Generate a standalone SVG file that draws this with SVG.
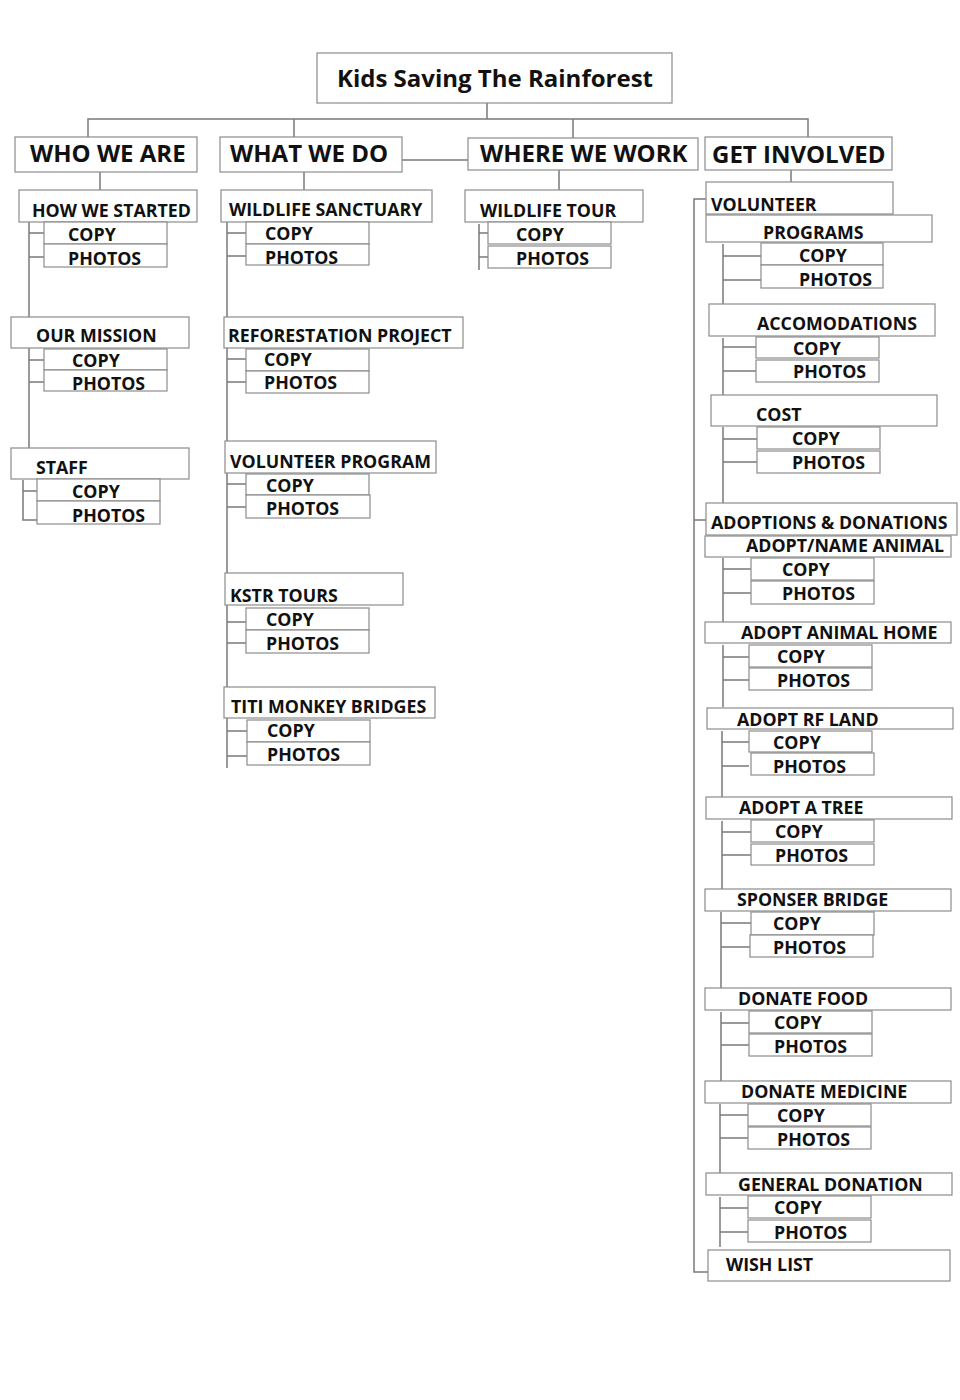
<svg xmlns="http://www.w3.org/2000/svg" width="960" height="1400" viewBox="0 0 960 1400">
<style>
.b{fill:#fff;stroke:#8c8c8c;stroke-width:1.2}
.l{stroke:#7a7a7a;stroke-width:1.5;fill:none}
text{font-family:"Open Sans","DejaVu Sans",sans-serif;font-weight:700;fill:#111}
.t{font-size:24px}
.h{font-size:24px}
.s{font-size:17.8px}
</style>
<rect width="960" height="1400" fill="#fff"/>
<g id="connectors" class="l">
<path d="M487 103V119M88 137V119H808V137M294 119V137M573 119V138M402 160H468"/>
<path d="M100 172V190M304 172V190M559 170V190M791 170V182"/>
<path d="M29 222V318M29 233H44M29 257H44M29 348V448M29 360H44M29 382H44M23 480V520H37M23 491H37"/>
<path d="M227 222V768M227 233H246M227 256H246M227 359H246M227 382H246M227 484H246M227 507H246M227 622H246M227 643H246M227 731H247M227 756H247"/>
<path d="M479 224V270M479 233H488M479 257H488"/>
<path d="M706 199H694V1272H708M694 520H706"/>
<path d="M723 244V304M723 256H761M723 280H761M723 338V396M723 347H756M723 371H756M723 427V503M723 439H757M723 462H757"/>
<path d="M723 558V622M723 569H751M723 593H751M723 645V707M723 657H749M723 680H749M722 731V798M722 742H749M722 766H749M722 821V890M722 832H751M722 855H751M721 912V988M721 923H751M721 947H750M721 1012V1081M721 1023H749M721 1045H749M720 1104V1173M720 1115H748M720 1138H748M720 1197V1247M720 1208H748M720 1232H748"/>
</g>
<g id="root"><rect class="b" x="317" y="53" width="355" height="50"/><text class="t" x="337" y="87">Kids Saving The Rainforest</text></g>
<g id="who-we-are"><rect class="b" x="15" y="137" width="182" height="35"/><text class="h" x="30" y="162">WHO WE ARE</text></g>
<g id="what-we-do"><rect class="b" x="220" y="137" width="182" height="35"/><text class="h" x="230" y="162">WHAT WE DO</text></g>
<g id="where-we-work"><rect class="b" x="468" y="138" width="230" height="32"/><text class="h" x="480" y="162">WHERE WE WORK</text></g>
<g id="get-involved"><rect class="b" x="705" y="137" width="187" height="33"/><text class="h" x="712" y="163">GET INVOLVED</text></g>

<g id="how-we-started"><rect class="b" x="19" y="190" width="178" height="32"/><text class="s" x="32" y="217">HOW WE STARTED</text></g>
<g id="hws-copy"><rect class="b" x="44" y="222" width="123" height="22"/><text class="s" x="68" y="241">COPY</text></g>
<g id="hws-photos"><rect class="b" x="44" y="244" width="123" height="23"/><text class="s" x="68" y="265">PHOTOS</text></g>
<g id="our-mission"><rect class="b" x="11" y="317" width="178" height="31"/><text class="s" x="36" y="342">OUR MISSION</text></g>
<g id="om-copy"><rect class="b" x="44" y="349" width="123" height="21"/><text class="s" x="72" y="367">COPY</text></g>
<g id="om-photos"><rect class="b" x="44" y="370" width="123" height="21"/><text class="s" x="72" y="390">PHOTOS</text></g>
<g id="staff"><rect class="b" x="11" y="448" width="178" height="31"/><text class="s" x="36" y="474">STAFF</text></g>
<g id="st-copy"><rect class="b" x="37" y="479" width="123" height="22"/><text class="s" x="72" y="498">COPY</text></g>
<g id="st-photos"><rect class="b" x="37" y="501" width="123" height="23"/><text class="s" x="72" y="522">PHOTOS</text></g>

<g id="wildlife-sanctuary"><rect class="b" x="221" y="190" width="211" height="32"/><text class="s" x="229" y="216">WILDLIFE SANCTUARY</text></g>
<g id="ws-copy"><rect class="b" x="246" y="222" width="123" height="22"/><text class="s" x="265" y="240">COPY</text></g>
<g id="ws-photos"><rect class="b" x="246" y="244" width="123" height="21"/><text class="s" x="265" y="264">PHOTOS</text></g>
<g id="reforestation-project"><rect class="b" x="224" y="317" width="239" height="31"/><text class="s" x="228" y="342">REFORESTATION PROJECT</text></g>
<g id="rp-copy"><rect class="b" x="246" y="349" width="123" height="22"/><text class="s" x="264" y="366">COPY</text></g>
<g id="rp-photos"><rect class="b" x="246" y="371" width="123" height="22"/><text class="s" x="264" y="389">PHOTOS</text></g>
<g id="volunteer-program"><rect class="b" x="225" y="441" width="211" height="32"/><text class="s" x="230" y="468">VOLUNTEER PROGRAM</text></g>
<g id="vp-copy"><rect class="b" x="246" y="474" width="123" height="21"/><text class="s" x="266" y="492">COPY</text></g>
<g id="vp-photos"><rect class="b" x="246" y="495" width="124" height="23"/><text class="s" x="266" y="515">PHOTOS</text></g>
<g id="kstr-tours"><rect class="b" x="225" y="573" width="178" height="32"/><text class="s" x="230" y="602">KSTR TOURS</text></g>
<g id="kt-copy"><rect class="b" x="246" y="608" width="123" height="22"/><text class="s" x="266" y="626">COPY</text></g>
<g id="kt-photos"><rect class="b" x="246" y="630" width="123" height="23"/><text class="s" x="266" y="650">PHOTOS</text></g>
<g id="titi-monkey-bridges"><rect class="b" x="224" y="687" width="211" height="31"/><text class="s" x="231" y="713">TITI MONKEY BRIDGES</text></g>
<g id="tm-copy"><rect class="b" x="247" y="720" width="123" height="22"/><text class="s" x="267" y="737">COPY</text></g>
<g id="tm-photos"><rect class="b" x="247" y="742" width="123" height="23"/><text class="s" x="267" y="761">PHOTOS</text></g>

<g id="wildlife-tour"><rect class="b" x="465" y="190" width="178" height="32"/><text class="s" x="480" y="217">WILDLIFE TOUR</text></g>
<g id="wt-copy"><rect class="b" x="488" y="222" width="123" height="22"/><text class="s" x="516" y="241">COPY</text></g>
<g id="wt-photos"><rect class="b" x="488" y="246" width="123" height="22"/><text class="s" x="516" y="265">PHOTOS</text></g>

<g id="volunteer"><rect class="b" x="706" y="182" width="187" height="32"/><text class="s" x="711" y="211">VOLUNTEER</text></g>
<g id="programs"><rect class="b" x="706" y="215" width="226" height="27"/><text class="s" x="763" y="239">PROGRAMS</text></g>
<g id="pr-copy"><rect class="b" x="761" y="243" width="122" height="22"/><text class="s" x="799" y="262">COPY</text></g>
<g id="pr-photos"><rect class="b" x="761" y="265" width="122" height="23"/><text class="s" x="799" y="286">PHOTOS</text></g>
<g id="accomodations"><rect class="b" x="709" y="304" width="226" height="32"/><text class="s" x="757" y="330">ACCOMODATIONS</text></g>
<g id="ac-copy"><rect class="b" x="756" y="337" width="123" height="21"/><text class="s" x="793" y="355">COPY</text></g>
<g id="ac-photos"><rect class="b" x="756" y="360" width="123" height="22"/><text class="s" x="793" y="378">PHOTOS</text></g>
<g id="cost"><rect class="b" x="711" y="395" width="226" height="31"/><text class="s" x="756" y="421">COST</text></g>
<g id="co-copy"><rect class="b" x="757" y="427" width="123" height="22"/><text class="s" x="792" y="445">COPY</text></g>
<g id="co-photos"><rect class="b" x="757" y="451" width="123" height="22"/><text class="s" x="792" y="469">PHOTOS</text></g>

<g id="adoptions-donations"><rect class="b" x="706" y="503" width="251" height="32"/><text class="s" x="711" y="529">ADOPTIONS &amp; DONATIONS</text></g>
<g id="adopt-name-animal"><rect class="b" x="705" y="536" width="246" height="21"/><text class="s" x="746" y="552">ADOPT/NAME ANIMAL</text></g>
<g id="an-copy"><rect class="b" x="751" y="558" width="123" height="22"/><text class="s" x="782" y="576">COPY</text></g>
<g id="an-photos"><rect class="b" x="751" y="581" width="123" height="23"/><text class="s" x="782" y="600">PHOTOS</text></g>
<g id="adopt-animal-home"><rect class="b" x="705" y="622" width="246" height="21"/><text class="s" x="741" y="639">ADOPT ANIMAL HOME</text></g>
<g id="ah-copy"><rect class="b" x="749" y="645" width="123" height="22"/><text class="s" x="777" y="663">COPY</text></g>
<g id="ah-photos"><rect class="b" x="749" y="668" width="123" height="22"/><text class="s" x="777" y="687">PHOTOS</text></g>
<g id="adopt-rf-land"><rect class="b" x="707" y="708" width="246" height="21"/><text class="s" x="737" y="726">ADOPT RF LAND</text></g>
<g id="rf-copy"><rect class="b" x="749" y="731" width="123" height="21"/><text class="s" x="773" y="749">COPY</text></g>
<g id="rf-photos"><rect class="b" x="751" y="753" width="123" height="22"/><text class="s" x="773" y="773">PHOTOS</text></g>
<g id="adopt-a-tree"><rect class="b" x="706" y="797" width="246" height="22"/><text class="s" x="739" y="814">ADOPT A TREE</text></g>
<g id="tr-copy"><rect class="b" x="751" y="820" width="123" height="22"/><text class="s" x="775" y="838">COPY</text></g>
<g id="tr-photos"><rect class="b" x="751" y="844" width="123" height="21"/><text class="s" x="775" y="862">PHOTOS</text></g>
<g id="sponser-bridge"><rect class="b" x="705" y="889" width="246" height="22"/><text class="s" x="737" y="906">SPONSER BRIDGE</text></g>
<g id="sb-copy"><rect class="b" x="751" y="912" width="123" height="23"/><text class="s" x="773" y="930">COPY</text></g>
<g id="sb-photos"><rect class="b" x="750" y="935" width="123" height="22"/><text class="s" x="773" y="954">PHOTOS</text></g>
<g id="donate-food"><rect class="b" x="705" y="988" width="246" height="22"/><text class="s" x="738" y="1005">DONATE FOOD</text></g>
<g id="df-copy"><rect class="b" x="749" y="1011" width="123" height="22"/><text class="s" x="774" y="1029">COPY</text></g>
<g id="df-photos"><rect class="b" x="749" y="1034" width="123" height="22"/><text class="s" x="774" y="1053">PHOTOS</text></g>
<g id="donate-medicine"><rect class="b" x="705" y="1081" width="246" height="22"/><text class="s" x="741" y="1098">DONATE MEDICINE</text></g>
<g id="dm-copy"><rect class="b" x="748" y="1104" width="123" height="22"/><text class="s" x="777" y="1122">COPY</text></g>
<g id="dm-photos"><rect class="b" x="748" y="1127" width="123" height="22"/><text class="s" x="777" y="1146">PHOTOS</text></g>
<g id="general-donation"><rect class="b" x="706" y="1173" width="246" height="22"/><text class="s" x="738" y="1191">GENERAL DONATION</text></g>
<g id="gd-copy"><rect class="b" x="748" y="1196" width="123" height="22"/><text class="s" x="774" y="1214">COPY</text></g>
<g id="gd-photos"><rect class="b" x="748" y="1220" width="123" height="22"/><text class="s" x="774" y="1239">PHOTOS</text></g>
<g id="wish-list"><rect class="b" x="708" y="1250" width="242" height="31"/><text class="s" x="726" y="1271">WISH LIST</text></g>
</svg>
